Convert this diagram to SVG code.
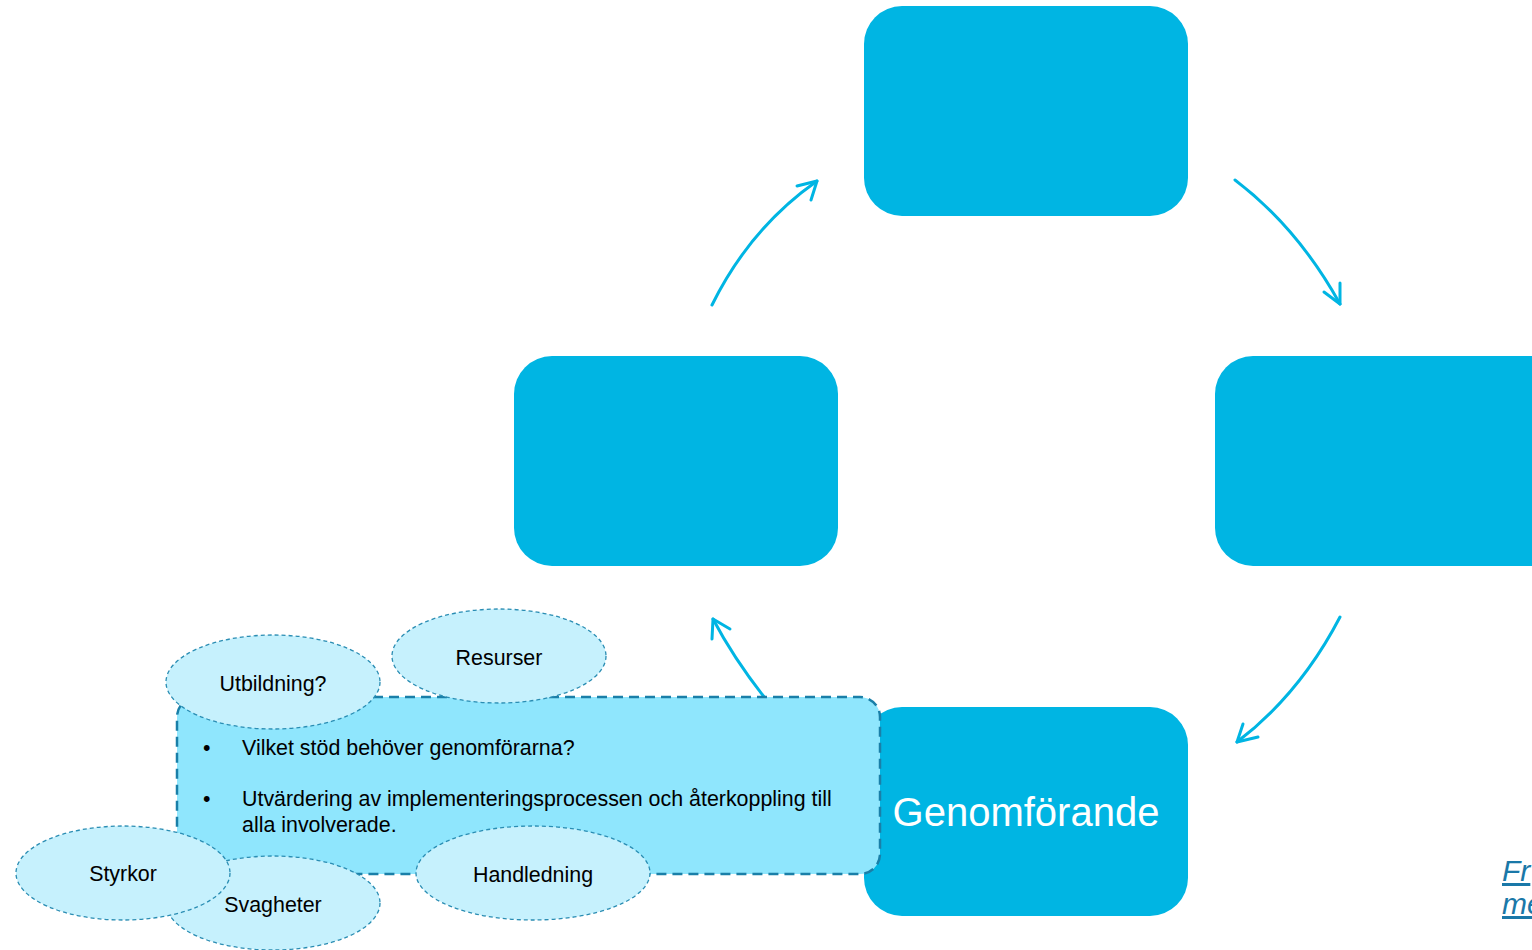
<svg xmlns="http://www.w3.org/2000/svg" width="1532" height="950" viewBox="0 0 1532 950">
<style>
.box{fill:#00b5e3}
.arr{fill:none;stroke:#00b5e3;stroke-width:3;stroke-linecap:round;stroke-linejoin:round}
.ell{fill:#c6f1fd;stroke:#2a8db3;stroke-width:1.3;stroke-dasharray:4 3}
.t{font-family:"Liberation Sans",Arial,sans-serif;font-size:21.4px;fill:#000}
.c{text-anchor:middle}
.link{font-family:"Liberation Sans",Arial,sans-serif;font-size:30px;font-style:italic;fill:#1a78a8;text-decoration:underline}
</style>
<rect width="1532" height="950" fill="#fff"/>
<g id="node-top"><rect class="box" x="864" y="6" width="324" height="210" rx="38"/></g>
<g id="node-left"><rect class="box" x="514" y="356" width="324" height="210" rx="38"/></g>
<g id="node-right"><rect class="box" x="1215" y="356" width="360" height="210" rx="38"/></g>
<g id="node-bottom"><rect class="box" x="864" y="707" width="324" height="209" rx="38"/>
<text x="1026" y="826" text-anchor="middle" font-family="'Liberation Sans',Arial,sans-serif" font-size="40" fill="#fff">Genomförande</text></g>
<g id="connectors">
<path class="arr" d="M712,305 Q750,228 817,181"/>
<path class="arr" d="M797,186 L817,181 L811,200"/>
<path class="arr" d="M1235,180 Q1298,228 1340,304"/>
<path class="arr" d="M1324,292 L1340,304 L1340,283"/>
<path class="arr" d="M1340,617 Q1300,694 1237,742"/>
<path class="arr" d="M1258,737 L1237,742 L1243,724"/>
<path class="arr" d="M805,745 Q745,680 713,619"/>
<path class="arr" d="M712,639 L713,619 L730,629"/>
</g>
<g id="callout">
<rect x="177" y="697" width="703" height="177" rx="20" fill="#8fe6fd" stroke="#1a7fa8" stroke-width="2.5" stroke-dasharray="10 6"/>
<text class="t" x="203" y="755">•</text>
<text class="t" x="242" y="755">Vilket stöd behöver genomförarna?</text>
<text class="t" x="203" y="806">•</text>
<text class="t" x="242" y="806">Utvärdering av implementeringsprocessen och återkoppling till</text>
<text class="t" x="242" y="832">alla involverade.</text>
</g>
<g id="node-utbildning"><ellipse class="ell" cx="273" cy="682" rx="107" ry="47"/><text class="t c" x="273" y="691">Utbildning?</text></g>
<g id="node-resurser"><ellipse class="ell" cx="499" cy="656" rx="107" ry="47"/><text class="t c" x="499" y="665">Resurser</text></g>
<g id="node-svagheter"><ellipse class="ell" cx="273" cy="903" rx="107" ry="47"/><text class="t c" x="273" y="912">Svagheter</text></g>
<g id="node-styrkor"><ellipse class="ell" cx="123" cy="873" rx="107" ry="47"/><text class="t c" x="123" y="881">Styrkor</text></g>
<g id="node-handledning"><ellipse class="ell" cx="533" cy="873" rx="117" ry="47"/><text class="t c" x="533" y="882">Handledning</text></g>
<g id="source">
<text class="link" x="1502" y="881">Fr</text>
<text class="link" x="1502" y="914">me</text>
</g>
</svg>
